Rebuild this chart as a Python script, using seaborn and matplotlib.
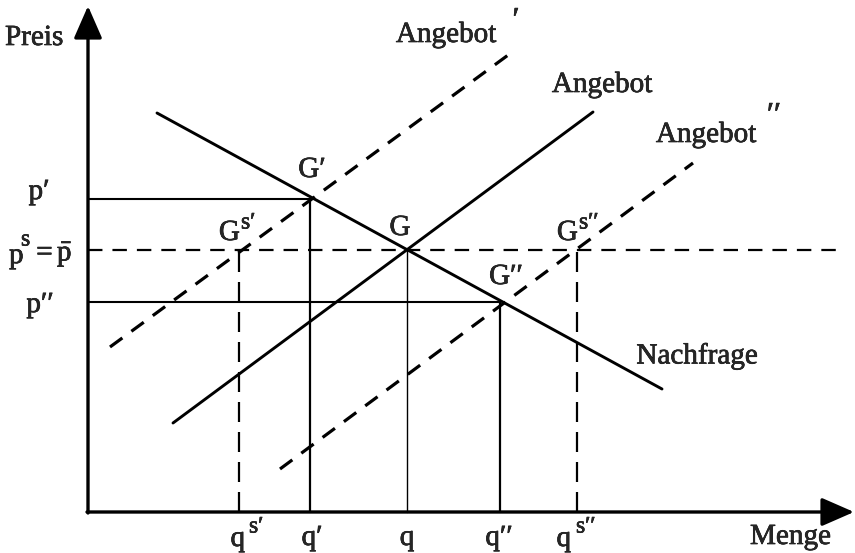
import matplotlib
matplotlib.use("Agg")
import matplotlib.pyplot as plt
import matplotlib.patheffects as pe
import seaborn as sns
import pandas as pd

sns.set_theme(style="white")
plt.rcParams["font.family"] = ["Liberation Serif", "DejaVu Serif"]
plt.rcParams["mathtext.fontset"] = "custom"
plt.rcParams["mathtext.rm"] = "Liberation Serif"
plt.rcParams["mathtext.it"] = "Liberation Serif:italic"

# quantities: q^s', q', q, q'', q^s''
q_vals = [151, 222, 319, 412, 489]
# prices: p', p^s = p-bar, p''
p_vals = [313, 262, 210]

# curve endpoints
demand_x = [69, 574]
demand_y = [399, 123]
supply_x = [85, 505]
supply_y = [89, 400]
supply1_x = [22, 427]
supply1_y = [165, 462]
supply2_x = [192, 605]
supply2_y = [43, 349]

fig = plt.figure(figsize=(8.55, 5.53), dpi=100)
ax = fig.add_axes([0, 0, 1, 1])
ax.set_xlim(-88, 767)
ax.set_ylim(-41, 512)
ax.axis("off")

fs = 21
sup = 17
bold = [pe.withStroke(linewidth=0.45, foreground="black")]


def txt(x, y, s, size=fs, **kw):
    kw.setdefault("ha", "center")
    kw.setdefault("va", "center")
    ax.text(x, y, s, fontsize=size, path_effects=bold, **kw)


# axes with arrows
arrow = dict(arrowstyle="-|>,head_length=0.8,head_width=0.35", lw=2.4,
             color="black", mutation_scale=25, shrinkA=0, shrinkB=0)
ax.annotate("", xy=(0, 506), xytext=(0, -1), arrowprops=arrow)
ax.annotate("", xy=(766, 0), xytext=(-1, 0), arrowprops=arrow)

# demand and supply curves
curves = pd.DataFrame({
    "x": demand_x + supply_x,
    "y": demand_y + supply_y,
    "kurve": ["Nachfrage"] * 2 + ["Angebot"] * 2,
})
sns.lineplot(data=curves, x="x", y="y", units="kurve", estimator=None,
             color="black", lw=2.1, ax=ax)
sns.lineplot(x=supply1_x, y=supply1_y, color="black", lw=2.3, ax=ax,
             linestyle=(0, (4.8, 3.5)))
sns.lineplot(x=supply2_x, y=supply2_y, color="black", lw=2.3, ax=ax,
             linestyle=(0, (4.8, 3.5)))

# price level guides
ax.plot([0, q_vals[1]], [p_vals[0], p_vals[0]], color="black", lw=1.5)
ax.plot([0, q_vals[3]], [p_vals[2], p_vals[2]], color="black", lw=1.5)
ax.plot([0, 752], [p_vals[1], p_vals[1]], color="black", lw=1.6,
        linestyle=(0, (6.5, 4.5)))

# quantity guides
ax.plot([q_vals[1], q_vals[1]], [0, p_vals[0]], color="black", lw=1.6)
ax.plot([q_vals[2], q_vals[2]], [0, p_vals[1]], color="black", lw=1.0)
ax.plot([q_vals[3], q_vals[3]], [0, p_vals[2]], color="black", lw=1.6)
for qx in (q_vals[0], q_vals[4]):
    ax.plot([qx, qx], [0, p_vals[1]], color="black", lw=1.6,
            linestyle=(0, (9, 4.5)))

# x labels
txt(q_vals[0] + 6, -27, "q", ha="right")
txt(q_vals[0] + 10, -15, "s′", size=sup, ha="left")
txt(q_vals[1] + 2, -26, "q′")
txt(q_vals[2], -26, "q")
txt(q_vals[3] - 1, -26, "q′′")
txt(q_vals[4] - 6, -27, "q", ha="right")
txt(q_vals[4] - 1, -15, "s′′", size=sup, ha="left")

# y labels
txt(-49, p_vals[0] + 7, "p′")
txt(-79, p_vals[1] - 6, "p", ha="left")
txt(-67, p_vals[1] + 10, "s", size=sup, ha="left")
txt(-56, p_vals[1] - 4, r"$=\bar{\mathrm{p}}$", ha="left")
txt(-48, p_vals[2] - 3, "p′′")

txt(-83, 474, "Preis", ha="left")
txt(662, -25, "Menge", ha="left")

# point labels
txt(q_vals[1] + 2, p_vals[0] + 29, "G′")
txt(q_vals[2] - 7, p_vals[1] + 22, "G")
txt(q_vals[3] + 6, p_vals[2] + 25, "G′′")
txt(q_vals[0] + 1, p_vals[1] + 17, "G", ha="right")
txt(q_vals[0] + 2, p_vals[1] + 27, "s′", size=sup, ha="left")
txt(q_vals[4] + 1, p_vals[1] + 17, "G", ha="right")
txt(q_vals[4] + 2, p_vals[1] + 27, "s′′", size=sup, ha="left")

# curve labels
txt(358, 477, "Angebot")
txt(428, 505, "′", size=fs + 2, va="top")
txt(514, 427, "Angebot")
txt(618, 377, "Angebot")
txt(686, 410, "′′", size=fs + 2, va="top")
txt(609, 156, "Nachfrage")

fig.savefig("out.png", dpi=100)
